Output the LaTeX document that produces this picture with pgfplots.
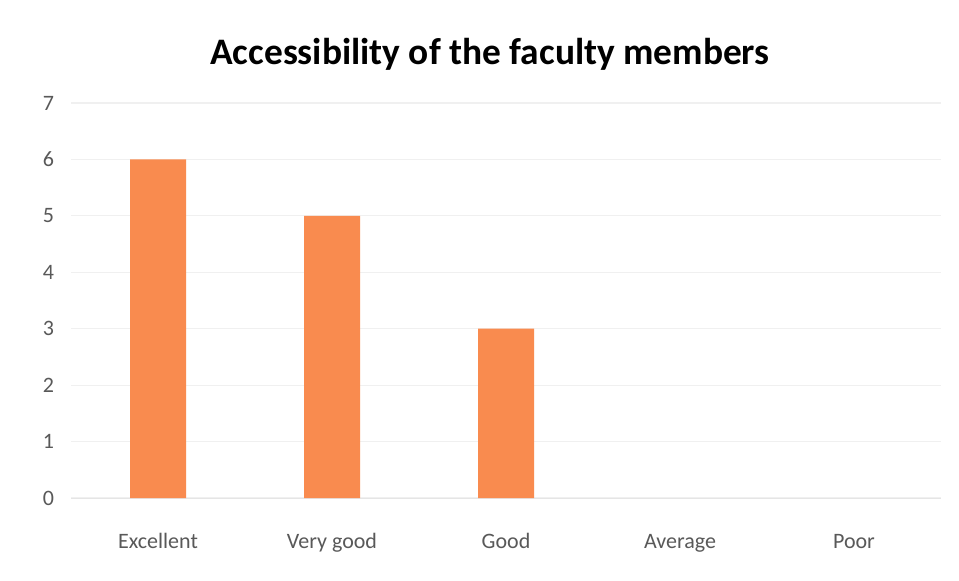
\documentclass[border=0pt]{standalone}
\usepackage{pgfplots}
\pgfplotsset{compat=1.18}
\usepackage{fontspec}
\setmainfont{Carlito}
\definecolor{barorange}{HTML}{F98B4F}
\definecolor{ticktext}{HTML}{595959}
\begin{document}
\begin{tikzpicture}
\useasboundingbox (0,0) rectangle (479.5pt,290pt);
\fill[white] (0,0) rectangle (479.5pt,290pt);
\node[font=\bfseries\fontsize{18.7pt}{22pt}\selectfont] at (245pt,263pt) {Accessibility of the faculty members};
\begin{axis}[
    at={(35.5pt,41pt)}, anchor=south west,
    scale only axis,
    width=435pt, height=197.5pt,
    ybar, bar width=28pt,
    xmin=-0.5, xmax=4.5,
    ymin=0, ymax=7,
    xtick={0,...,4},
    xticklabels={Excellent,Very good,Good,Average,Poor},
    ytick={0,...,7},
    ymajorgrids,
    grid style={draw=gray!12, line width=0.6pt},
    axis x line*=bottom,
    axis y line*=left,
    x axis line style={draw=gray!20},
    y axis line style={draw=none},
    major tick length=0pt,
    tick label style={font=\fontsize{11pt}{13pt}\selectfont, text=ticktext},
    /pgf/number format/assume math mode=true,
    xticklabel style={anchor=base, yshift=-25pt},
    yticklabel style={xshift=-5pt},
    enlarge x limits=false,
]
\addplot[fill=barorange, draw=none, bar shift=0pt] coordinates {(0,6) (1,5) (2,3)};
\end{axis}
\end{tikzpicture}
\end{document}
